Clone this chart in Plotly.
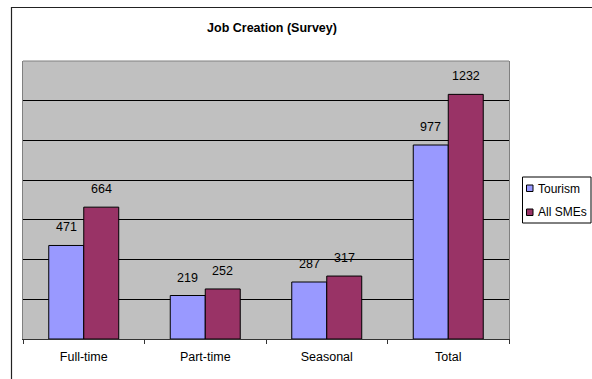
import plotly.graph_objects as go

# Survey results: jobs created
categories = ["Full-time", "Part-time", "Seasonal", "Total"]
series_names = ["Tourism", "All SMEs"]
tourism = [471, 219, 287, 977]
all_smes = [664, 252, 317, 1232]
series_values = [tourism, all_smes]
series_colors = ["#9999FF", "#993366"]

W, H = 592, 379
ML, MR, MT, MB = 23, 83, 61, 40
PW, PH = W - ML - MR, H - MT - MB


def px_x(x):
    return (x - ML) / PW


def px_y(y):
    return (H - MB - y) / PH


FONT = "Liberation Sans, Arial, sans-serif"

fig = go.Figure()
for name, vals, col in zip(series_names, series_values, series_colors):
    fig.add_trace(go.Bar(
        x=categories, y=vals, name=name,
        marker=dict(color=col, line=dict(color="#000000", width=1)),
        showlegend=False,
    ))

# value labels above each bar
half = PW / len(categories) * (1 - 0.424) / 4
for i, vals in enumerate(series_values):
    shift = -half if i == 0 else half
    for c, v in zip(categories, vals):
        fig.add_annotation(
            x=c, y=v, text=str(v), showarrow=False,
            xshift=shift, yshift=9, yanchor="bottom",
            font=dict(family=FONT, size=12.5, color="#000000"),
        )

shapes = [
    # chart border
    dict(type="rect", xref="paper", yref="paper",
         x0=px_x(11.5), x1=px_x(620), y0=px_y(7.5), y1=px_y(400),
         line=dict(color="#222222", width=1.2), layer="below"),
    # top edge of plot area
    dict(type="line", xref="paper", yref="paper",
         x0=0, x1=1, y0=1, y1=1, line=dict(color="#808080", width=1)),
    # legend box
    dict(type="rect", xref="paper", yref="paper",
         x0=px_x(522.5), x1=px_x(591), y0=px_y(177), y1=px_y(223),
         line=dict(color="#000000", width=1), fillcolor="#FFFFFF"),
]

# legend entries
for k, (name, col) in enumerate(zip(series_names, series_colors)):
    cy = 188.5 + 24 * k
    shapes.append(dict(
        type="rect", xref="paper", yref="paper",
        x0=px_x(526.5), x1=px_x(533), y0=px_y(cy - 3.5), y1=px_y(cy + 3),
        line=dict(color="#000000", width=1), fillcolor=col))
    fig.add_annotation(
        xref="paper", yref="paper", x=px_x(536), y=px_y(cy),
        text=name, showarrow=False, xanchor="left", yanchor="middle",
        font=dict(family=FONT, size=12, color="#000000"),
    )

fig.update_layout(
    width=W, height=H,
    margin=dict(l=ML, r=MR, t=MT, b=MB, pad=0),
    paper_bgcolor="#FFFFFF",
    plot_bgcolor="#C0C0C0",
    barmode="group", bargap=0.424, bargroupgap=0,
    title=dict(text="<b>Job Creation (Survey)</b>", x=272 / W, y=1 - 28 / H,
               xref="container", yref="container",
               xanchor="center", yanchor="middle",
               font=dict(family=FONT, size=12.5, color="#000000")),
    shapes=shapes,
    xaxis=dict(
        showgrid=False, showline=True, linecolor="#333333", linewidth=1,
        ticks="outside", tickson="boundaries", ticklen=4, tickcolor="#333333",
        ticklabelstandoff=6,
        tickfont=dict(family=FONT, size=12.5, color="#000000"),
    ),
    yaxis=dict(
        range=[0, 1400], dtick=200, showticklabels=False, ticks="",
        showgrid=True, gridcolor="#000000", gridwidth=1, zeroline=False,
        showline=True, linecolor="#808080", linewidth=1, mirror=True,
    ),
)

fig.write_html("out.html")
